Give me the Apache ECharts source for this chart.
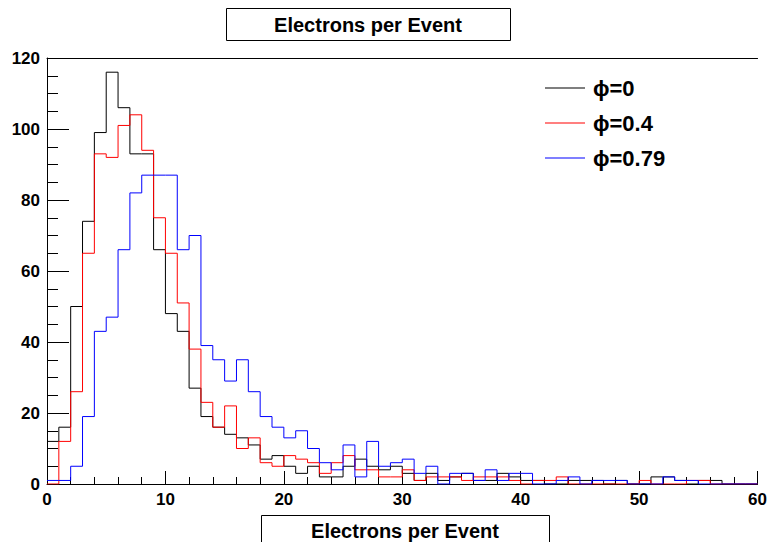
<!DOCTYPE html>
<html><head><meta charset="utf-8">
<script src="https://cdn.jsdelivr.net/npm/echarts@6/dist/echarts.min.js"></script>
<style>html,body{margin:0;padding:0;background:#fff}#c{width:770px;height:542px}</style>
</head><body><div id="c"></div>
<script>
// Histogram: 60 bins of width 1 from 0 to 60
const binStart = 0;
const binWidth = 1;
const phi0 = [12,16,50,74,99,116,106,93,93,66,48,43,27,19,16,14,13,11,7,8,5,3,5,2,2,5,7,5,4,5,3,1,3,1,2,3,1,1,3,2,1,1,0,0,1,1,1,0,1,0,0,2,2,1,0,1,1,0,0,0];
const phi04 = [0,12,26,65,93,92,101,104,94,75,65,51,38,23,16,22,10,13,6,5,8,7,6,3,6,8,4,4,2,2,4,1,2,2,2,1,2,2,2,1,0,1,1,2,0,0,0,0,0,0,1,0,0,0,1,1,0,0,0,0];
const phi079 = [1,1,5,19,43,47,66,82,87,87,87,66,70,39,35,29,35,26,19,16,13,15,10,6,4,11,2,12,5,6,7,3,5,0,3,3,1,4,1,3,3,0,0,1,2,0,1,1,1,0,0,0,2,1,1,0,0,0,0,0];
const seriesNames = ['\u03D5=0', '\u03D5=0.4', '\u03D5=0.79'];
const xTicks = [0,10,20,30,40,50,60];
const yTicks = [0,20,40,60,80,100,120];
const titleText = 'Electrons per Event';
const xTitle = 'Electrons per Event';

const FONT = "'Liberation Sans','Arial',sans-serif";
function toSteps(vals){
  const pts = vals.map((v,i)=>[binStart + i*binWidth, v]);
  pts.push([binStart + vals.length*binWidth, vals[vals.length-1]]);
  return pts;
}
const colors = ['#000000','#ff0000','#0000ff'];
const chart = echarts.init(document.getElementById('c'), null, {renderer:'svg'});
chart.setOption({
  animation:false,
  backgroundColor:'#fff',
  grid:{left:47, right:3, top:58, bottom:58, containLabel:false},
  legend:{
    orient:'vertical', left:545, top:75, padding:0, itemWidth:40, itemHeight:1, itemGap:9,
    icon:'rect',
    data:seriesNames,
    textStyle:{fontFamily:FONT, fontWeight:'bold', fontSize:22, color:'#000', lineHeight:26, padding:[0,0,0,3]},
    selectedMode:false
  },
  xAxis:[{
    type:'value', min:xTicks[0], max:xTicks[xTicks.length-1], interval:10,
    axisLine:{show:true, lineStyle:{color:'#000', width:1}},
    axisTick:{show:true, inside:true, length:13, lineStyle:{color:'#000'}},
    minorTick:{show:true, splitNumber:5, length:7, lineStyle:{color:'#000'}},
    splitLine:{show:false},
    axisLabel:{fontFamily:FONT, fontWeight:'bold', fontSize:17, color:'#000', margin:7,
      formatter:v=>xTicks.includes(v)?String(v):''}
  },{
    type:'value', position:'top', min:0, max:60,
    axisLine:{show:true, onZero:false, lineStyle:{color:'#000', width:1}},
    axisTick:{show:false}, axisLabel:{show:false}, splitLine:{show:false}
  }],
  yAxis:{
    type:'value', min:yTicks[0], max:yTicks[yTicks.length-1], interval:20,
    axisLine:{show:true, lineStyle:{color:'#000', width:1}},
    axisTick:{show:true, inside:true, length:22, lineStyle:{color:'#000'}},
    minorTick:{show:true, splitNumber:4, length:11, lineStyle:{color:'#000'}},
    splitLine:{show:false},
    axisLabel:{fontFamily:FONT, fontWeight:'bold', fontSize:17, color:'#000', margin:7,
      formatter:v=>yTicks.includes(v)?String(v):''}
  },
  series:[phi0, phi04, phi079].map((vals,i)=>({
    name:seriesNames[i], type:'line', step:'end', data:toSteps(vals),
    showSymbol:false, symbol:'none', lineStyle:{color:colors[i], width:1}, itemStyle:{color:colors[i]},
    xAxisIndex:0
  })),
  graphic:[
    {type:'rect', shape:{x:226.5, y:8.5, width:284, height:32}, style:{fill:'#fff', stroke:'#000', lineWidth:1}},
    {type:'text', x:368, y:25, style:{text:titleText, align:'center', verticalAlign:'middle', fontFamily:FONT, fontWeight:'bold', fontSize:20, fill:'#000'}},
    {type:'rect', shape:{x:261.5, y:515.5, width:288, height:40}, style:{fill:'#fff', stroke:'#000', lineWidth:1}},
    {type:'text', x:405, y:531, style:{text:xTitle, align:'center', verticalAlign:'middle', fontFamily:FONT, fontWeight:'bold', fontSize:20, fill:'#000'}}
  ]
});
</script></body></html>
